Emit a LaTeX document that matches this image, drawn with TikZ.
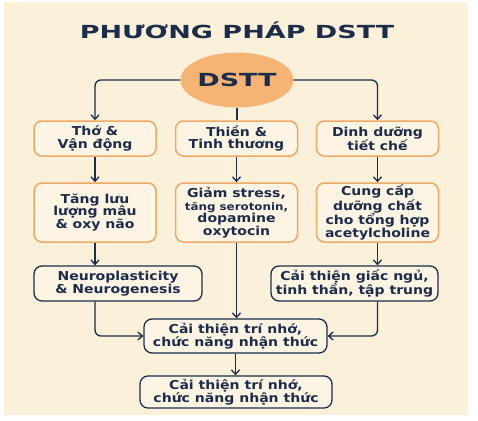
\documentclass[tikz,border=0pt]{standalone}
\usepackage{fontspec}
\setmainfont{DejaVu Sans}[FakeStretch=1.14]
\newfontfamily\headfont{DejaVu Sans}[FakeStretch=1.5]
\usetikzlibrary{shapes.geometric,arrows.meta}
\definecolor{navy}{HTML}{1B2D4A}
\definecolor{cream}{HTML}{FBF0DA}
\definecolor{boxfill}{HTML}{FDF4E4}
\definecolor{peach}{HTML}{EFA967}
\definecolor{oval}{HTML}{F5B374}

\begin{document}
\begin{tikzpicture}[x=1pt, y=-1pt,
  txt/.style = {font=\fontsize{12.3}{12.6}\selectfont\bfseries, text=navy, align=center},
  obox/.style = {txt, draw=peach, line width=1.5pt, fill=boxfill, rounded corners=8pt, inner sep=0pt},
  nbox/.style = {txt, draw=navy, line width=1.3pt, fill=boxfill, rounded corners=8pt, inner sep=0pt},
  link/.style = {draw=navy, line width=1.3pt, rounded corners=6pt},
  arr/.style = {link, -{Straight Barb[length=4.5pt, width=8pt]}}]
\useasboundingbox (0,0) rectangle (478,420);
\fill [cream] (4,2) rectangle (468,415);

% title and root
\node [font=\headfont\fontsize{18}{20}\bfseries\selectfont, text=navy] (title) at (237,30) {PHƯƠNG PHÁP DSTT};
\node [ellipse, fill=oval, minimum width=113, minimum height=55, inner sep=0pt,
       font=\headfont\fontsize{18}{20}\bfseries\selectfont, text=navy] (dstt) at (237,80) {DSTT};

% three branches
\node [obox, minimum width=122, minimum height=35] (tho) at (95,138.5) {Thớ \&\\Vận động};
\node [obox, minimum width=122, minimum height=35] (thien) at (236.5,138.5) {Thiền \&\\Tinh thương};
\node [obox, minimum width=122, minimum height=35] (dinh) at (377.5,138.5) {Dinh dưỡng\\tiết chế};

\node [obox, minimum width=122, minimum height=59] (mau) at (95,212.5) {Tăng lưu\\lượng mâu\\\& oxy não};
\node [obox, minimum width=122, minimum height=59] (stress) at (236.5,212.5)
  {Giảm stress,\\{\fontsize{10.4}{12.6}\selectfont tăng serotonin,}\\dopamine\\oxytocin};
\node [obox, minimum width=122, minimum height=59] (cung) at (377.5,212.5) {Cung cấp\\dưỡng chất\\cho tổng hợp\\acetylcholine};

\node [nbox, minimum width=168, minimum height=35] (neuro) at (118,283.5) {Neuroplasticity\\\& Neurogenesis};
\node [nbox, minimum width=167, minimum height=35] (ngu) at (354.5,283.5) {Cải thiện giấc ngủ,\\tinh thần, tập trung};

\node [nbox, minimum width=183, minimum height=34] (nho) at (235.5,336) {Cải thiện trí nhớ,\\chức năng nhận thức};
\node [nbox, minimum width=192, minimum height=32] (kq) at (236,392) {Cải thiện trí nhớ,\\chức năng nhận thức};

% connectors
\draw [arr] (dstt.west) -| (tho.north);
\draw [arr] (dstt.east) -| (dinh.north);
\draw [link] (dstt.south) -- (dstt.south |- thien.north);
\draw [arr] (tho.south) -- (mau.north);
\draw [arr] (thien.south) -- (stress.north);
\draw [arr] (dinh.south) -- (cung.north);
\draw [arr] (mau.south) -- (mau.south |- neuro.north);
\draw [arr] (stress.south) -- (stress.south |- nho.north);
\draw [arr] (cung.south) -- (cung.south |- ngu.north);
\draw [arr] (neuro.south -| mau.south) |- (nho.west);
\draw [arr] (ngu.south -| cung.south) |- (nho.east);
\draw [arr] (nho.south) -- (nho.south |- kq.north);
\end{tikzpicture}
\end{document}
